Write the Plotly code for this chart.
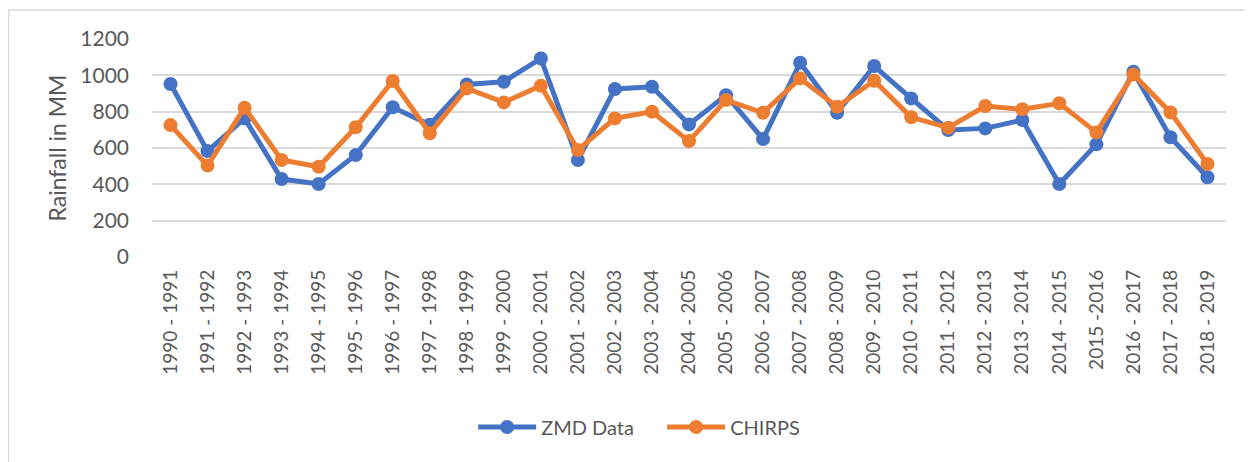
import plotly.graph_objects as go

seasons = [
    "1990 - 1991", "1991 - 1992", "1992 - 1993", "1993 - 1994", "1994 - 1995",
    "1995 - 1996", "1996 - 1997", "1997 - 1998", "1998 - 1999", "1999 - 2000",
    "2000 - 2001", "2001 - 2002", "2002 - 2003", "2003 - 2004", "2004 - 2005",
    "2005 - 2006", "2006 - 2007", "2007 - 2008", "2008 - 2009", "2009 - 2010",
    "2010 - 2011", "2011 - 2012", "2012 - 2013", "2013 - 2014", "2014 - 2015",
    "2015 -2016", "2016 - 2017", "2017 - 2018", "2018 - 2019",
]

zmd = [952, 583, 763, 429, 402, 561, 824, 728, 950, 965,
       1093, 534, 925, 937, 730, 891, 649, 1069, 794, 1051,
       873, 699, 708, 754, 402, 620, 1020, 659, 439]

chirps = [726, 503, 822, 534, 497, 714, 969, 681, 928, 851,
          943, 589, 763, 800, 638, 864, 794, 983, 827, 970,
          769, 712, 831, 813, 846, 686, 1005, 796, 512]

font_name = "Lato"
grey = "#595959"

fig = go.Figure()
fig.add_trace(go.Scatter(x=seasons, y=zmd, name="ZMD Data", mode="lines+markers",
                         line=dict(color="#4472C4", width=5),
                         marker=dict(color="#4472C4", size=14)))
fig.add_trace(go.Scatter(x=seasons, y=chirps, name="CHIRPS", mode="lines+markers",
                         line=dict(color="#ED7D31", width=5),
                         marker=dict(color="#ED7D31", size=14)))

# the page body has an 8px margin, so the figure is a bit smaller than the window
fig.update_layout(
    width=1245, height=454,
    margin=dict(l=144, r=27, t=31, b=205),
    paper_bgcolor="white", plot_bgcolor="white",
    font=dict(family=font_name, color=grey, size=19),
    showlegend=True,
    legend=dict(orientation="h", x=0.475, xanchor="center", y=-0.78, yanchor="middle",
                font=dict(size=20, color=grey), itemwidth=58,
                entrywidth=116, entrywidthmode="pixels"),
    xaxis=dict(type="category", range=[-0.5, len(seasons) - 0.5], tickangle=-90,
               showgrid=False, zeroline=False, showline=False, automargin=False,
               tickfont=dict(size=19), ticklabelstandoff=8),
    yaxis=dict(range=[0, 1200], dtick=200, showgrid=True, gridcolor="#D9D9D9",
               gridwidth=1.5, zeroline=False, showline=False, automargin=False,
               tickfont=dict(size=21), ticklabelstandoff=22,
               title=dict(text="Rainfall in MM", font=dict(size=23), standoff=7)),
    shapes=[dict(type="rect", xref="paper", yref="paper",
                 x0=-0.1336, x1=1.2, y0=-1.2, y1=1.133,
                 line=dict(color="#D9D9D9", width=1.5), layer="below")],
)

fig.write_html("out.html")
